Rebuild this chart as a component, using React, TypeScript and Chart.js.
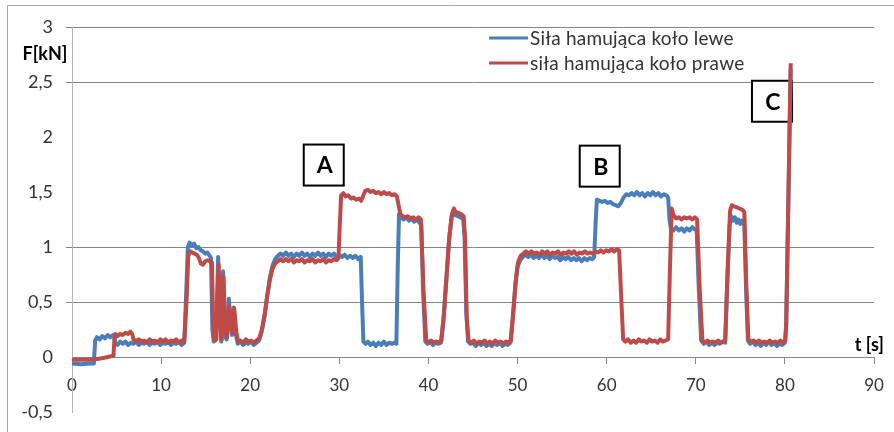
import React, { useEffect, useRef } from 'react';
import { Chart, registerables } from 'chart.js';

Chart.register(...registerables);

const seriesNames = ['Siła hamująca koło lewe', 'siła hamująca koło prawe'];
const axisTitleY = 'F[kN]';
const axisTitleX = 't [s]';

// [time s, force kN] – left wheel (blue)
const leftWheel: [number, number][] = [
  [0, -0.06], [1, -0.065], [2, -0.06], [2.45, -0.06],
  [2.6, 0.15], [2.8, 0.18], [3.1, 0.16], [3.4, 0.19], [3.7, 0.17], [4.0, 0.2], [4.3, 0.18], [4.6, 0.2], [4.75, 0.18],
  [4.85, 0.13], [5.1, 0.11], [5.4, 0.14], [5.7, 0.12], [6.0, 0.14], [6.3, 0.11], [6.6, 0.13], [6.9, 0.12], [7.2, 0.14],
  [7.5, 0.11], [7.8, 0.13], [8.1, 0.12], [8.4, 0.14], [8.7, 0.11], [9.0, 0.13], [9.3, 0.12], [9.6, 0.14], [9.9, 0.11],
  [10.2, 0.13], [10.5, 0.12], [10.8, 0.14], [11.1, 0.11], [11.4, 0.13], [11.7, 0.12], [12.0, 0.14], [12.3, 0.11], [12.6, 0.13],
  [12.8, 0.55], [13.0, 1.0], [13.2, 1.04], [13.45, 1.01], [13.7, 1.03], [13.95, 0.99], [14.2, 1.0], [14.45, 0.97],
  [14.7, 0.96], [14.95, 0.94], [15.2, 0.95], [15.45, 0.92], [15.6, 0.9],
  [15.75, 0.25], [15.9, 0.14], [16.15, 0.16], [16.4, 0.91], [16.6, 0.35], [16.75, 0.14], [16.95, 0.78], [17.15, 0.2],
  [17.35, 0.16], [17.6, 0.53], [17.8, 0.28], [17.95, 0.2], [18.15, 0.45], [18.4, 0.2], [18.6, 0.12],
  [18.9, 0.14], [19.2, 0.11], [19.5, 0.13], [19.8, 0.12], [20.1, 0.14], [20.4, 0.11], [20.7, 0.13], [21.0, 0.15],
  [21.3, 0.23], [21.6, 0.36], [21.9, 0.55], [22.2, 0.72], [22.5, 0.83], [22.8, 0.89], [23.1, 0.92], [23.4, 0.94],
  [23.7, 0.92], [24.0, 0.95], [24.3, 0.92], [24.6, 0.94], [24.9, 0.91], [25.2, 0.94], [25.5, 0.92], [25.8, 0.95],
  [26.1, 0.92], [26.4, 0.94], [26.7, 0.91], [27.0, 0.94], [27.3, 0.92], [27.6, 0.95], [27.9, 0.92], [28.2, 0.94],
  [28.5, 0.91], [28.8, 0.94], [29.1, 0.92], [29.4, 0.94], [29.7, 0.91], [30.0, 0.93], [30.3, 0.91], [30.6, 0.93],
  [30.9, 0.9], [31.2, 0.92], [31.5, 0.9], [31.8, 0.92], [32.1, 0.89], [32.4, 0.91],
  [32.55, 0.5], [32.7, 0.14], [32.95, 0.12], [33.2, 0.14], [33.5, 0.11], [33.8, 0.13], [34.1, 0.1], [34.4, 0.13],
  [34.7, 0.11], [35.0, 0.14], [35.3, 0.11], [35.6, 0.13], [35.9, 0.12], [36.2, 0.13], [36.4, 0.12],
  [36.55, 0.8], [36.7, 1.3], [36.9, 1.27], [37.2, 1.25], [37.5, 1.27], [37.8, 1.24], [38.1, 1.26], [38.4, 1.23],
  [38.7, 1.25], [39.0, 1.22], [39.2, 1.2],
  [39.4, 0.6], [39.65, 0.14], [39.9, 0.12], [40.2, 0.14], [40.5, 0.11], [40.8, 0.13], [41.1, 0.12], [41.4, 0.13],
  [41.7, 0.35], [42.0, 0.7], [42.3, 1.05], [42.6, 1.28], [42.8, 1.33], [43.0, 1.29], [43.3, 1.28], [43.6, 1.27],
  [43.9, 1.25], [44.05, 1.1],
  [44.25, 0.4], [44.45, 0.14], [44.7, 0.12], [45.0, 0.13], [45.3, 0.1], [45.6, 0.13], [45.9, 0.11], [46.2, 0.13],
  [46.5, 0.1], [46.8, 0.12], [47.1, 0.1], [47.4, 0.13], [47.7, 0.11], [48.0, 0.13], [48.3, 0.1], [48.6, 0.12],
  [48.9, 0.11], [49.2, 0.13],
  [49.45, 0.35], [49.75, 0.65], [50.0, 0.82], [50.3, 0.88], [50.6, 0.91], [50.9, 0.93], [51.2, 0.91], [51.5, 0.93],
  [51.8, 0.9], [52.1, 0.92], [52.4, 0.9], [52.7, 0.93], [53.0, 0.9], [53.3, 0.92], [53.6, 0.89], [53.9, 0.92],
  [54.2, 0.9], [54.5, 0.91], [54.8, 0.88], [55.1, 0.91], [55.4, 0.89], [55.7, 0.91], [56.0, 0.88], [56.3, 0.9],
  [56.6, 0.88], [56.9, 0.9], [57.2, 0.87], [57.5, 0.9], [57.8, 0.88], [58.1, 0.9], [58.4, 0.89], [58.6, 0.91],
  [58.75, 1.2], [58.9, 1.43], [59.2, 1.42], [59.5, 1.41], [59.8, 1.42], [60.1, 1.4], [60.4, 1.41], [60.7, 1.39],
  [61.0, 1.38], [61.3, 1.37], [61.6, 1.4], [61.9, 1.45], [62.2, 1.48], [62.5, 1.47], [62.8, 1.49], [63.1, 1.47],
  [63.4, 1.5], [63.7, 1.47], [64.0, 1.49], [64.3, 1.46], [64.6, 1.49], [64.9, 1.47], [65.2, 1.5], [65.5, 1.47],
  [65.8, 1.49], [66.1, 1.46], [66.4, 1.48], [66.7, 1.47], [66.9, 1.45],
  [67.05, 1.25], [67.2, 1.17], [67.5, 1.15], [67.8, 1.18], [68.1, 1.15], [68.4, 1.17], [68.7, 1.14], [69.0, 1.17],
  [69.3, 1.15], [69.6, 1.18], [69.9, 1.16], [70.1, 1.15],
  [70.35, 0.6], [70.6, 0.15], [70.9, 0.12], [71.2, 0.14], [71.5, 0.11], [71.8, 0.13], [72.1, 0.11], [72.4, 0.13],
  [72.7, 0.12], [73.0, 0.14], [73.3, 0.13],
  [73.55, 0.7], [73.8, 1.2], [74.0, 1.28], [74.2, 1.24], [74.4, 1.27], [74.6, 1.22], [74.8, 1.25], [75.0, 1.21],
  [75.2, 1.24], [75.45, 1.2],
  [75.65, 0.6], [75.85, 0.15], [76.1, 0.12], [76.4, 0.14], [76.7, 0.11], [77.0, 0.13], [77.3, 0.1], [77.6, 0.13],
  [77.9, 0.11], [78.2, 0.14], [78.5, 0.11], [78.8, 0.13], [79.1, 0.1], [79.4, 0.12], [79.7, 0.11], [80.0, 0.13],
  [80.15, 0.3], [80.65, 2.62],
];

// [time s, force kN] – right wheel (red)
const rightWheel: [number, number][] = [
  [0, -0.025], [1, -0.025], [2, -0.025], [2.5, -0.02], [3.0, -0.015], [3.5, -0.01], [4.0, 0.0], [4.5, 0.01], [4.65, 0.01],
  [4.75, 0.15], [4.85, 0.21], [5.1, 0.19], [5.4, 0.21], [5.7, 0.2], [6.0, 0.22], [6.3, 0.21], [6.55, 0.23], [6.75, 0.21],
  [6.9, 0.16], [7.2, 0.14], [7.5, 0.16], [7.8, 0.14], [8.1, 0.15], [8.4, 0.13], [8.7, 0.16], [9.0, 0.14], [9.3, 0.15],
  [9.6, 0.13], [9.9, 0.16], [10.2, 0.14], [10.5, 0.16], [10.8, 0.13], [11.1, 0.15], [11.4, 0.14], [11.7, 0.16],
  [12.0, 0.13], [12.3, 0.15], [12.6, 0.14],
  [12.85, 0.5], [13.05, 0.92], [13.25, 0.96], [13.5, 0.95], [13.75, 0.94], [14.0, 0.93], [14.25, 0.9], [14.45, 0.85],
  [14.7, 0.84], [14.95, 0.87], [15.2, 0.88], [15.45, 0.87], [15.7, 0.86],
  [15.85, 0.3], [16.0, 0.15], [16.2, 0.16], [16.45, 0.84], [16.65, 0.3], [16.8, 0.16], [17.0, 0.73], [17.2, 0.25],
  [17.4, 0.18], [17.65, 0.46], [17.85, 0.28], [18.0, 0.22], [18.2, 0.44], [18.45, 0.22], [18.65, 0.14],
  [18.9, 0.15], [19.2, 0.13], [19.5, 0.16], [19.8, 0.14], [20.1, 0.15], [20.4, 0.13], [20.7, 0.15], [21.0, 0.17],
  [21.3, 0.25], [21.6, 0.38], [21.9, 0.55], [22.2, 0.7], [22.5, 0.8], [22.8, 0.85], [23.1, 0.87], [23.4, 0.89],
  [23.7, 0.87], [24.0, 0.89], [24.3, 0.87], [24.6, 0.89], [24.9, 0.86], [25.2, 0.88], [25.5, 0.87], [25.8, 0.89],
  [26.1, 0.86], [26.4, 0.88], [26.7, 0.87], [27.0, 0.89], [27.3, 0.86], [27.6, 0.88], [27.9, 0.87], [28.2, 0.89],
  [28.5, 0.86], [28.8, 0.88], [29.1, 0.87], [29.4, 0.89], [29.7, 0.88], [29.9, 0.9],
  [30.05, 1.2], [30.2, 1.47], [30.45, 1.49], [30.7, 1.46], [31.0, 1.47], [31.3, 1.44], [31.6, 1.45], [31.9, 1.43],
  [32.2, 1.44], [32.45, 1.42], [32.7, 1.47], [32.9, 1.51], [33.2, 1.52], [33.5, 1.5], [33.8, 1.51], [34.1, 1.49],
  [34.4, 1.5], [34.7, 1.48], [35.0, 1.5], [35.3, 1.48], [35.6, 1.49], [35.9, 1.47], [36.2, 1.48], [36.45, 1.46],
  [36.65, 1.38], [36.85, 1.3], [37.1, 1.28], [37.4, 1.27], [37.7, 1.28], [38.0, 1.26], [38.3, 1.27], [38.6, 1.25],
  [38.9, 1.27], [39.15, 1.25],
  [39.45, 0.6], [39.75, 0.15], [40.0, 0.13], [40.3, 0.15], [40.6, 0.13], [40.9, 0.14], [41.2, 0.13], [41.45, 0.15],
  [41.75, 0.4], [42.05, 0.75], [42.35, 1.1], [42.65, 1.3], [42.85, 1.35], [43.05, 1.32], [43.35, 1.31], [43.65, 1.3],
  [43.95, 1.28], [44.1, 1.1],
  [44.3, 0.35], [44.5, 0.15], [44.8, 0.13], [45.1, 0.15], [45.4, 0.12], [45.7, 0.14], [46.0, 0.13], [46.3, 0.15],
  [46.6, 0.12], [46.9, 0.14], [47.2, 0.12], [47.5, 0.15], [47.8, 0.13], [48.1, 0.14], [48.4, 0.12], [48.7, 0.14],
  [49.0, 0.13], [49.25, 0.15],
  [49.5, 0.38], [49.8, 0.7], [50.05, 0.86], [50.35, 0.92], [50.65, 0.94], [50.95, 0.96], [51.25, 0.94], [51.55, 0.96],
  [51.85, 0.94], [52.15, 0.95], [52.45, 0.93], [52.75, 0.96], [53.05, 0.94], [53.35, 0.96], [53.65, 0.93], [53.95, 0.95],
  [54.25, 0.94], [54.55, 0.96], [54.85, 0.93], [55.15, 0.95], [55.45, 0.94], [55.75, 0.96], [56.05, 0.94], [56.35, 0.96],
  [56.65, 0.93], [56.95, 0.95], [57.25, 0.94], [57.55, 0.96], [57.85, 0.94], [58.15, 0.95], [58.45, 0.94], [58.75, 0.96],
  [59.05, 0.95], [59.35, 0.97], [59.65, 0.95], [59.95, 0.97], [60.25, 0.96], [60.55, 0.98], [60.85, 0.96], [61.15, 0.98],
  [61.4, 0.97],
  [61.6, 0.6], [61.85, 0.16], [62.1, 0.14], [62.4, 0.16], [62.7, 0.13], [63.0, 0.15], [63.3, 0.13], [63.6, 0.16],
  [63.9, 0.14], [64.2, 0.15], [64.5, 0.13], [64.8, 0.16], [65.1, 0.14], [65.4, 0.15], [65.7, 0.13], [66.0, 0.16],
  [66.3, 0.14], [66.6, 0.15], [66.9, 0.16],
  [67.1, 0.8], [67.3, 1.35], [67.5, 1.29], [67.8, 1.26], [68.1, 1.27], [68.4, 1.25], [68.7, 1.27], [69.0, 1.26],
  [69.3, 1.27], [69.6, 1.25], [69.9, 1.27], [70.15, 1.25],
  [70.45, 0.6], [70.75, 0.15], [71.0, 0.13], [71.3, 0.15], [71.6, 0.13], [71.9, 0.14], [72.2, 0.13], [72.5, 0.15],
  [72.8, 0.13], [73.1, 0.14], [73.3, 0.15],
  [73.55, 0.75], [73.85, 1.33], [74.05, 1.38], [74.3, 1.37], [74.6, 1.36], [74.9, 1.35], [75.2, 1.34], [75.45, 1.32],
  [75.65, 0.7], [75.9, 0.16], [76.2, 0.14], [76.5, 0.15], [76.8, 0.13], [77.1, 0.15], [77.4, 0.13], [77.7, 0.14],
  [78.0, 0.13], [78.3, 0.15], [78.6, 0.13], [78.9, 0.14], [79.2, 0.13], [79.5, 0.15], [79.8, 0.13], [80.05, 0.15],
  [80.15, 0.3], [80.65, 2.67],
];

// annotation boxes: label, centre time, centre force
const markerLabels = ['A', 'B', 'C'];
const markerTimes = [28.25, 59.22, 78.55];
const markerForces = [1.745, 1.735, 2.325];

const X_MIN = 0, X_MAX = 90, X_STEP = 10;
const Y_MIN = -0.5, Y_MAX = 3, Y_STEP = 0.5;
const gridValues = [3, 2.5, 1, 0.5];

const BLUE = '#4a7ebb';
const RED = '#be4b48';
const FONT = 'Lato, "Open Sans", sans-serif';

const overlayPlugin = {
  id: 'overlay',
  beforeDraw(chart: any) {
    const ctx = chart.ctx;
    ctx.save();
    ctx.strokeStyle = '#a6a6a6';
    ctx.lineWidth = 1;
    ctx.beginPath();
    ctx.moveTo(7.5, 432);
    ctx.lineTo(7.5, 5.5);
    ctx.lineTo(894, 5.5);
    ctx.stroke();
    ctx.restore();
  },
  beforeDatasetsDraw(chart: any) {
    const ctx = chart.ctx;
    const xs = chart.scales.x;
    const ys = chart.scales.y;
    ctx.save();
    markerLabels.forEach((lab, i) => {
      const cx = xs.getPixelForValue(markerTimes[i]);
      const cy = ys.getPixelForValue(markerForces[i]);
      const w = 40, h = 41;
      ctx.fillStyle = '#ffffff';
      ctx.fillRect(cx - w / 2, cy - h / 2, w, h);
      ctx.strokeStyle = '#000000';
      ctx.lineWidth = 2;
      ctx.strokeRect(cx - w / 2, cy - h / 2, w, h);
      ctx.fillStyle = '#000000';
      ctx.font = `bold 23px ${FONT}`;
      ctx.textAlign = 'center';
      ctx.textBaseline = 'middle';
      ctx.fillText(lab, cx + 1, cy + 1);
    });
    ctx.restore();
  },
  afterDraw(chart: any) {
    const ctx = chart.ctx;
    ctx.save();
    // legend
    const colors = [BLUE, RED];
    const rows = [38, 63];
    seriesNames.forEach((name, i) => {
      ctx.strokeStyle = colors[i];
      ctx.lineWidth = 3;
      ctx.beginPath();
      ctx.moveTo(489, rows[i]);
      ctx.lineTo(528, rows[i]);
      ctx.stroke();
      ctx.fillStyle = '#333333';
      ctx.font = `19px ${FONT}`;
      (ctx as any).letterSpacing = '0.2px';
      ctx.textAlign = 'left';
      ctx.textBaseline = 'middle';
      ctx.fillText(name, 530, rows[i] + 1);
    });
    (ctx as any).letterSpacing = '0px';
    // axis titles
    ctx.fillStyle = '#000000';
    ctx.font = `bold 18px ${FONT}`;
    ctx.textAlign = 'center';
    ctx.textBaseline = 'middle';
    ctx.fillText(axisTitleY, 45, 54);
    ctx.textAlign = 'right';
    ctx.fillText(axisTitleX, 884, 345);
    ctx.restore();
  },
};

export default function App() {
  const ref = useRef<HTMLCanvasElement | null>(null);

  useEffect(() => {
    if (!ref.current) return;
    const fmt = (v: number) => String(v).replace('.', ',');
    const chart = new Chart(ref.current, {
      type: 'line',
      data: {
        datasets: [
          {
            label: seriesNames[0],
            data: leftWheel.map(([x, y]) => ({ x, y })),
            borderColor: BLUE,
            borderWidth: 4,
            pointRadius: 0,
            tension: 0,
            order: 2,
            borderJoinStyle: 'round',
          },
          {
            label: seriesNames[1],
            data: rightWheel.map(([x, y]) => ({ x, y })),
            borderColor: RED,
            borderWidth: 4,
            pointRadius: 0,
            tension: 0,
            order: 1,
            borderJoinStyle: 'round',
          },
        ],
      },
      options: {
        responsive: false,
        animation: false,
        devicePixelRatio: 1,
        layout: { padding: { left: 0, top: 27, right: 20, bottom: 20 } },
        plugins: { legend: { display: false }, tooltip: { enabled: false } },
        scales: {
          x: {
            type: 'linear',
            position: { y: 0 } as any,
            min: X_MIN,
            max: X_MAX,
            afterFit: (scale: any) => {
              scale.height = 0;
              scale.paddingLeft = 0;
              scale.paddingRight = 0;
              scale.paddingTop = 0;
              scale.paddingBottom = 0;
            },
            ticks: {
              stepSize: X_STEP,
              color: '#333333',
              font: { family: FONT, size: 17 },
              padding: 12,
              maxRotation: 0,
              callback: (v: any) => fmt(v),
            },
            grid: {
              drawOnChartArea: false,
              drawTicks: true,
              tickLength: 6,
              color: '#868686',
            },
            border: { display: true, color: '#868686', width: 1 },
          },
          y: {
            type: 'linear',
            position: 'left',
            min: Y_MIN,
            max: Y_MAX,
            afterFit: (scale: any) => {
              scale.width = 72;
              scale.paddingTop = 0;
              scale.paddingBottom = 0;
              scale.paddingLeft = 0;
              scale.paddingRight = 0;
            },
            ticks: {
              stepSize: Y_STEP,
              color: '#333333',
              font: { family: FONT, size: 18 },
              padding: 13,
              callback: (v: any) => fmt(v),
            },
            grid: {
              drawTicks: true,
              tickLength: 6,
              color: (c: any) => (gridValues.includes(c.tick?.value) ? '#868686' : 'rgba(0,0,0,0)'),
            },
            border: { display: true, color: '#b4b4b4', width: 1 },
          },
        },
      },
      plugins: [overlayPlugin],
    } as any);
    return () => chart.destroy();
  }, []);

  return (
    <div style={{ position: 'absolute', left: 0, top: 0, width: 894, height: 432, background: '#fff' }}>
      <canvas ref={ref} width={894} height={432} style={{ display: 'block' }} />
    </div>
  );
}
